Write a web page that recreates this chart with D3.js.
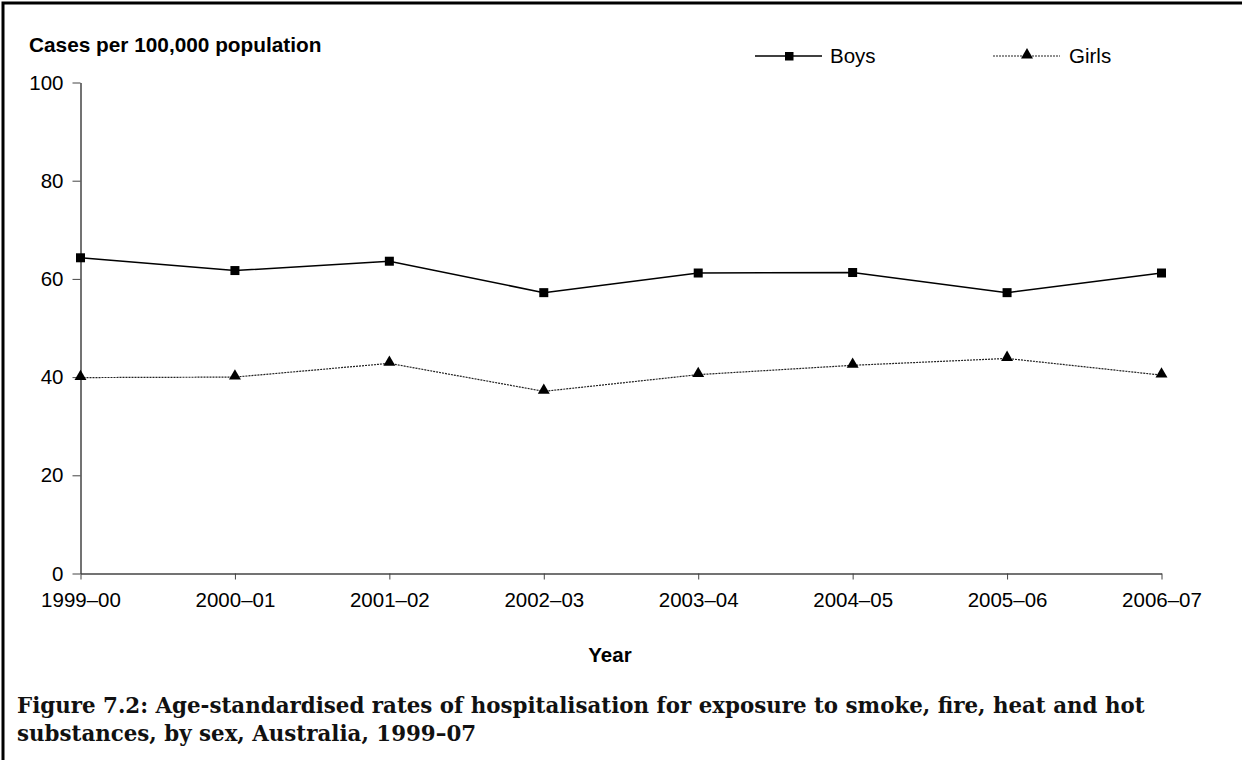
<!DOCTYPE html>
<html><head><meta charset="utf-8">
<script src="https://cdn.jsdelivr.net/npm/d3@7"></script>
<style>body{margin:0;background:#fff}svg{display:block}</style>
</head><body>
<script>
const years = ["1999–00","2000–01","2001–02","2002–03","2003–04","2004–05","2005–06","2006–07"];
const boys  = [64.3, 61.7, 63.6, 57.2, 61.2, 61.3, 57.2, 61.2];
const girls = [39.9, 40.0, 42.8, 37.1, 40.5, 42.4, 43.8, 40.4];
const yTicks = [0, 20, 40, 60, 80, 100];
const yTitle = "Cases per 100,000 population";
const xTitle = "Year";
const captionLines = ["Figure 7.2: Age-standardised rates of hospitalisation for exposure to smoke, fire, heat and hot",
                      "substances, by sex, Australia, 1999–07"];

const W = 1242, H = 760;
const svg = d3.select("body").append("svg").attr("width", W).attr("height", H);
svg.append("rect").attr("width", W).attr("height", H).attr("fill", "#fff");

// frame
svg.append("path").attr("d", `M3,${H} L3,3 L${W},3`).attr("fill","none").attr("stroke","#000").attr("stroke-width",3);

const x = d3.scalePoint().domain(years).range([80.5, 1161.5]);
const y = d3.scaleLinear().domain([0, 100]).range([573.5, 82.5]);

const sans = "Arial, 'Liberation Sans', sans-serif";
const FS = 20.5;

// y axis
const yAx = svg.append("g").attr("transform", "translate(80.5,0)")
  .call(d3.axisLeft(y).tickValues(yTicks).tickSize(8).tickPadding(9).tickSizeOuter(0));
yAx.select(".domain").attr("stroke", "#444").attr("stroke-width", 1.5);
yAx.selectAll(".tick line").attr("stroke", "#444");
yAx.selectAll("text").attr("font-family", sans).attr("font-size", FS).attr("fill", "#000");

// x axis
const xAx = svg.append("g").attr("transform", "translate(0,573.5)")
  .call(d3.axisBottom(x).tickSize(6).tickPadding(13).tickSizeOuter(0));
xAx.select(".domain").attr("stroke", "#444").attr("stroke-width", 1.5);
xAx.selectAll(".tick line").attr("stroke", "#444");
xAx.selectAll("text").attr("font-family", sans).attr("font-size", FS).attr("fill", "#000");

// titles
svg.append("text").attr("x", 29).attr("y", 52).attr("font-family", sans).attr("font-weight", "bold")
  .attr("font-size", 20.8).text(yTitle);
svg.append("text").attr("x", 610).attr("y", 662).attr("text-anchor", "middle").attr("font-family", sans)
  .attr("font-weight", "bold").attr("font-size", FS).text(xTitle);

const line = d3.line().x((d, i) => x(years[i])).y(d => y(d));

// girls
svg.append("path").datum(girls).attr("d", line).attr("fill", "none").attr("stroke", "#222")
  .attr("stroke-width", 1.2).attr("stroke-dasharray", "2,1");
const tri = d3.symbol().type(d3.symbolTriangle).size(62);
svg.selectAll(".gm").data(girls).enter().append("path")
  .attr("transform", (d, i) => `translate(${x(years[i])},${y(d) - 1})`).attr("d", tri).attr("fill", "#000");

// boys
svg.append("path").datum(boys).attr("d", line).attr("fill", "none").attr("stroke", "#000").attr("stroke-width", 1.5);
svg.selectAll(".bm").data(boys).enter().append("rect")
  .attr("x", (d, i) => x(years[i]) - 4.5).attr("y", d => y(d) - 4.5).attr("width", 9).attr("height", 9).attr("fill", "#000");

// legend
const lg = svg.append("g");
lg.append("line").attr("x1", 755).attr("x2", 822).attr("y1", 56).attr("y2", 56).attr("stroke", "#000").attr("stroke-width", 1.5);
lg.append("rect").attr("x", 785).attr("y", 52).attr("width", 8.5).attr("height", 8.5).attr("fill", "#000");
lg.append("text").attr("x", 830).attr("y", 63).attr("font-family", sans).attr("font-size", FS).text("Boys");
lg.append("line").attr("x1", 993).attr("x2", 1060).attr("y1", 56).attr("y2", 56).attr("stroke", "#222").attr("stroke-width", 1.2).attr("stroke-dasharray", "2,1");
lg.append("path").attr("transform", "translate(1027,55)").attr("d", tri).attr("fill", "#000");
lg.append("text").attr("x", 1069).attr("y", 63).attr("font-family", sans).attr("font-size", FS).text("Girls");

// caption
const serif = "'Palatino Linotype', Palatino, 'Book Antiqua', 'DejaVu Serif', serif";
const c1 = svg.append("text").attr("x", 17).attr("y", 713).attr("font-family", serif).attr("font-weight", "bold")
  .attr("font-size", 20).attr("fill", "#111").text(captionLines[0]);
const w1 = c1.node().getComputedTextLength();
const fs = 20 * 1128 / w1;
c1.attr("font-size", fs);
svg.append("text").attr("x", 17).attr("y", 741).attr("font-family", serif).attr("font-weight", "bold")
  .attr("font-size", fs).attr("fill", "#111").text(captionLines[1]);
</script>
</body></html>
